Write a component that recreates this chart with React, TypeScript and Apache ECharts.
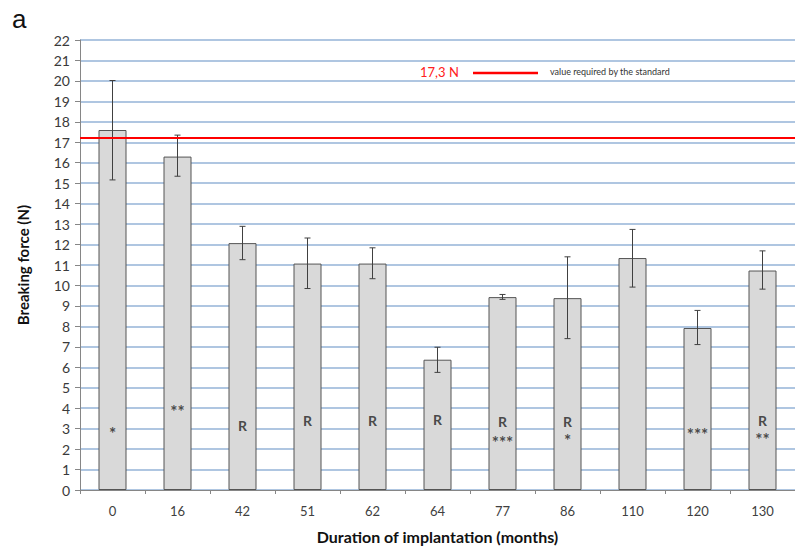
import React, { useEffect, useRef } from "react";
import * as echarts from "echarts";

const categories = ["0", "16", "42", "51", "62", "64", "77", "86", "110", "120", "130"];
const means = [17.6, 16.3, 12.07, 11.07, 11.07, 6.37, 9.43, 9.38, 11.34, 7.92, 10.73];
const errLow = [15.16, 15.34, 11.26, 9.85, 10.33, 5.75, 9.32, 7.4, 9.92, 7.11, 9.82];
const errHigh = [20.02, 17.35, 12.89, 12.32, 11.84, 6.98, 9.56, 11.4, 12.74, 8.78, 11.69];
const standardValue = 17.2;
const yTicks = [0, 22, 1];

const annoCat = [0, 1, 2, 3, 4, 5, 6, 6, 7, 7, 9, 10, 10];
const annoY = [2.97, 4.03, 3.13, 3.42, 3.42, 3.45, 3.34, 2.53, 3.34, 2.6, 2.89, 3.42, 2.65];
const annoText = ["*", "**", "R", "R", "R", "R", "R", "***", "R", "*", "***", "R", "**"];

const LABEL_FONT = "Lato, 'Open Sans', sans-serif";

export default function App() {
  const ref = useRef<HTMLDivElement>(null);
  useEffect(() => {
    if (!ref.current) return;
    const chart = echarts.init(ref.current, undefined, { renderer: "svg" });
    const errData = categories.map((_, i) => [i, errLow[i], errHigh[i]]);
    const annoData = annoCat.map((c, i) => {
      const isStar = annoText[i].indexOf("*") >= 0;
      return {
        value: [c, annoY[i], annoText[i]],
        label: isStar
          ? { fontSize: 17, offset: [0, 4], letterSpacing: 0 }
          : { fontSize: 14, offset: [0, 0] },
      };
    });
    chart.setOption({
      animation: false,
      backgroundColor: "#ffffff",
      grid: { left: 80, top: 40, width: 726, height: 454 },
      xAxis: {
        type: "category",
        data: categories,
        name: "Duration of implantation (months)",
        nameLocation: "middle",
        nameGap: 38,
        nameTextStyle: { fontFamily: LABEL_FONT, fontWeight: "bold", fontSize: 16, color: "#111" },
        axisLine: { lineStyle: { color: "#868686", width: 1 } },
        axisTick: { show: true, length: 4, lineStyle: { color: "#868686" } },
        axisLabel: { fontFamily: LABEL_FONT, fontSize: 13, color: "#404040", margin: 14 },
        splitLine: { show: false },
      },
      yAxis: {
        type: "value",
        min: yTicks[0],
        max: yTicks[1],
        interval: yTicks[2],
        name: "Breaking force (N)",
        nameLocation: "middle",
        nameGap: 50,
        nameTextStyle: { fontFamily: LABEL_FONT, fontWeight: "bold", fontSize: 15, color: "#111" },
        axisLine: { show: true, lineStyle: { color: "#868686", width: 1 } },
        axisTick: { show: true, length: 5, lineStyle: { color: "#868686" } },
        axisLabel: { fontFamily: LABEL_FONT, fontSize: 14, color: "#3a3a3a", margin: 10 },
        splitLine: { show: true, lineStyle: { color: "#95b3d7", width: 1.5 } },
      },
      series: [
        {
          type: "bar",
          data: means,
          barWidth: 28,
          itemStyle: { color: "#d9d9d9", borderColor: "#555555", borderWidth: 1 },
          markLine: {
            silent: true,
            symbol: "none",
            label: { show: false },
            lineStyle: { color: "#ff0000", width: 2.2, type: "solid" },
            data: [{ yAxis: standardValue }],
          },
          z: 2,
        },
        {
          type: "custom",
          data: errData,
          z: 4,
          renderItem: (params: any, api: any) => {
            const x = api.value(0);
            const lo = api.coord([x, api.value(1)]);
            const hi = api.coord([x, api.value(2)]);
            const hw = 3;
            const style = { stroke: "#404040", lineWidth: 1 };
            return {
              type: "group",
              children: [
                { type: "line", shape: { x1: lo[0], y1: lo[1], x2: hi[0], y2: hi[1] }, style },
                { type: "line", shape: { x1: lo[0] - hw, y1: lo[1], x2: lo[0] + hw, y2: lo[1] }, style },
                { type: "line", shape: { x1: hi[0] - hw, y1: hi[1], x2: hi[0] + hw, y2: hi[1] }, style },
              ],
            };
          },
        },
        {
          type: "scatter",
          data: annoData,
          symbolSize: 0,
          z: 5,
          label: {
            show: true,
            position: "inside",
            formatter: (p: any) => p.value[2],
            fontFamily: LABEL_FONT,
            fontWeight: "bold",
            fontSize: 14,
            color: "#222",
          },
        },
      ],
      graphic: [
        {
          type: "text",
          left: 12,
          top: 6,
          style: { text: "a", fontFamily: "'Liberation Sans', Arial, sans-serif", fontSize: 26, fill: "#111" },
        },
        {
          type: "text",
          left: 420,
          top: 65,
          style: { text: "17,3 N", fontFamily: LABEL_FONT, fontSize: 13, fill: "#ff2020" },
        },
        {
          type: "line",
          shape: { x1: 473, y1: 73, x2: 538, y2: 73 },
          style: { stroke: "#ff0000", lineWidth: 2.5 },
        },
        {
          type: "text",
          left: 550,
          top: 67,
          style: { text: "value required by the standard", fontFamily: LABEL_FONT, fontSize: 9, fill: "#333" },
        },
      ],
    });
    return () => chart.dispose();
  }, []);
  return <div ref={ref} style={{ width: 795, height: 549, position: "absolute", left: 0, top: 0 }} />;
}
